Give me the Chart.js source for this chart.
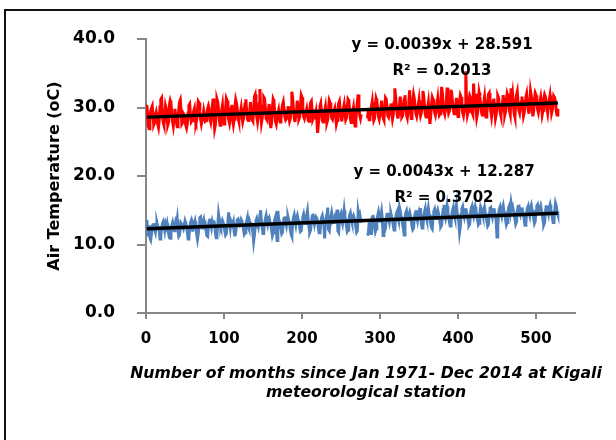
<!DOCTYPE html>
<html>
<head>
<meta charset="utf-8">
<script src="https://cdn.jsdelivr.net/npm/chart.js@4.4.1/dist/chart.umd.min.js"></script>
<style>
html, body { margin: 0; padding: 0; background: #fff; }
canvas { display: block; }
</style>
</head>
<body>
<canvas id="tempChart" width="616" height="440"></canvas>
<script>
// monthly air temperature, Kigali, Jan 1971 - Dec 2014 (one row per year)
const maxTemp = [
    30.4, 29.1, 27.2, 26.9, 28.0, 29.5, 29.9, 30.2, 28.6, 27.5, 27.8, 28.9,
    29.3, 28.4, 27.6, 27.1, 28.2, 30.1, 31.2, 31.4, 29.0, 27.8, 27.4, 28.6,
    30.2, 29.7, 28.1, 27.5, 27.9, 30.4, 31.0, 30.6, 29.2, 28.0, 27.3, 28.4,
    29.8, 29.0, 27.9, 27.2, 28.3, 29.7, 30.8, 31.1, 29.5, 27.6, 27.8, 29.1,
    28.9, 28.2, 27.4, 27.0, 27.6, 29.2, 30.3, 30.5, 28.8, 27.9, 28.1, 28.5,
    29.4, 29.8, 28.0, 27.7, 28.2, 29.6, 30.9, 30.7, 29.4, 28.3, 27.6, 28.2,
    28.7, 29.5, 28.8, 28.0, 28.1, 29.0, 29.8, 30.2, 29.7, 28.4, 27.9, 28.8,
    30.1, 31.3, 28.6, 26.9, 27.5, 29.9, 31.2, 30.8, 29.6, 28.1, 27.4, 28.3,
    29.6, 30.3, 28.4, 27.6, 28.0, 29.8, 31.3, 31.0, 29.5, 28.2, 27.7, 28.6,
    29.9, 30.4, 28.2, 27.5, 28.3, 30.0, 31.1, 30.6, 29.8, 28.5, 28.0, 28.9,
    29.2, 29.9, 28.7, 27.9, 28.4, 29.7, 30.5, 31.2, 29.6, 28.3, 28.1, 28.7,
    29.5, 30.8, 28.9, 28.2, 28.0, 29.4, 31.6, 31.9, 30.4, 28.6, 27.9, 28.8,
    30.6, 32.7, 29.4, 27.8, 28.5, 30.2, 31.5, 31.3, 29.9, 28.4, 28.2, 28.9,
    29.7, 30.5, 28.3, 27.0, 27.8, 29.9, 31.2, 30.9, 29.3, 28.0, 27.6, 28.5,
    29.1, 29.6, 28.5, 27.9, 28.3, 29.5, 30.4, 30.8, 29.7, 28.6, 28.2, 28.4,
    29.0, 30.2, 28.7, 28.0, 28.4, 30.0, 32.3, 31.4, 29.8, 28.5, 27.9, 28.8,
    29.6, 31.0, 29.2, 28.3, 28.6, 30.3, 31.8, 31.5, 30.1, 28.7, 28.4, 29.0,
    29.3, 29.8, 28.9, 28.1, 28.0, 29.6, 30.7, 30.9, 29.5, 28.3, 28.6, 29.1,
    28.8, 29.4, 28.2, 26.3, 27.6, 29.3, 30.2, 30.6, 29.4, 28.1, 27.9, 28.7,
    29.5, 30.1, 28.6, 27.8, 28.2, 29.8, 31.0, 30.7, 29.9, 28.5, 28.3, 29.2,
    29.2, 29.9, 28.8, 27.6, 28.1, 29.5, 30.6, 30.9, 29.7, 28.6, 28.0, 28.9,
    29.8, 30.4, 29.1, 28.2, 28.5, 30.0, 31.2, 31.0, 29.6, 28.4, 27.8, 28.7,
    29.4, 30.0, 28.7, 27.3, 28.0, 29.7, 30.8, 31.9, 29.8, 28.9, 28.4, 29.0,
    null, null, null, null, null, null, null, 28.4, 29.6, 28.2, 28.9, 29.3,
    30.1, 30.8, 29.0, 28.1, 28.4, 30.2, 31.3, 30.9, 29.8, 28.7, 28.3, 29.1,
    29.7, 31.0, 29.3, 28.5, 28.2, 29.9, 31.4, 31.2, 30.0, 28.8, 28.6, 29.4,
    30.0, 30.6, 29.2, 28.3, 28.9, 30.7, 32.8, 31.5, 30.2, 29.0, 28.4, 29.3,
    30.4, 31.6, 29.5, 28.6, 28.8, 30.3, 31.2, 31.8, 30.1, 28.9, 28.5, 29.6,
    30.8, 32.5, 29.7, 28.4, 29.0, 30.9, 31.9, 31.3, 30.2, 29.1, 28.7, 29.4,
    30.3, 31.1, 29.6, 28.8, 29.2, 30.6, 32.4, 31.7, 30.4, 29.0, 28.6, 29.5,
    29.9, 30.7, 29.1, 27.6, 28.7, 30.4, 31.5, 31.2, 30.0, 29.3, 28.9, 29.7,
    30.5, 31.3, 29.8, 28.9, 29.1, 30.8, 33.0, 32.1, 30.6, 29.4, 29.0, 29.8,
    30.6, 32.9, 30.1, 29.2, 29.5, 31.2, 32.6, 32.0, 30.7, 29.6, 29.1, 29.9,
    30.4, 31.4, 29.7, 28.7, 29.3, 30.9, 31.8, 31.5, 30.3, 29.2, 28.8, 29.6,
    30.2, 35.3, 30.5, 28.9, 29.4, 31.0, 31.7, 31.4, 30.1, 29.3, 29.0, 33.5,
    31.2, 32.0, 30.0, 28.5, 29.1, 30.6, 32.2, 31.6, 30.4, 29.4, 28.9, 29.8,
    30.7, 31.5, 29.9, 28.6, 29.2, 30.8, 31.9, 32.1, 30.5, 29.5, 28.7, 29.7,
    30.9, 31.3, 29.8, 28.4, 29.0, 30.5, 31.7, 31.4, 30.2, 29.3, 28.8, 29.9,
    30.6, 31.8, 30.2, 28.9, 29.4, 31.1, 32.0, 31.6, 30.5, 29.5, 29.0, 32.8,
    31.0, 31.9, 30.4, 29.1, 28.6, 30.7, 31.8, 32.3, 30.6, 29.6, 29.2, 30.1,
    30.8, 31.6, 30.3, 28.8, 29.3, 30.9, 31.5, 32.0, 30.8, 29.7, 29.1, 30.2,
    32.4, 31.7, 30.1, 28.7, 29.5, 31.2, 32.1, 31.8, 30.7, 29.8, 29.3, 30.0,
    30.9, 31.5, 30.4, 29.0, 29.6, 31.3, 31.9, 31.6, 30.9, 29.9, 29.2, 30.3,
    31.1, 31.8, 30.6, 29.2, 29.7, 31.0, 31.6, 31.4, 30.8, 29.5, 28.9, 29.8
];
const minTemp = [
    13.6, 12.4, 11.2, 12.8, 11.0, 10.7, 11.5, 12.6, 12.9, 13.1, 12.2, 11.8,
    12.9, 13.2, 12.7, 12.5, 11.9, 10.8, 11.3, 12.4, 13.0, 13.3, 12.8, 12.1,
    13.0, 12.6, 13.1, 12.3, 11.6, 11.0, 10.9, 12.2, 12.8, 13.2, 12.5, 12.0,
    12.7, 13.3, 12.9, 13.7, 12.0, 11.2, 11.4, 12.5, 13.1, 12.9, 12.6, 12.3,
    12.8, 13.4, 13.0, 12.6, 11.8, 10.8, 11.1, 12.3, 13.2, 13.5, 12.7, 11.9,
    13.1, 12.9, 13.4, 12.8, 11.5, 10.8, 11.6, 12.7, 13.9, 14.0, 12.9, 12.4,
    13.2, 13.6, 12.8, 13.0, 12.1, 11.3, 11.2, 12.6, 13.4, 13.8, 13.1, 12.5,
    13.3, 12.8, 13.5, 12.9, 11.7, 11.0, 11.5, 12.8, 14.4, 13.6, 13.0, 12.6,
    13.0, 13.5, 13.2, 12.7, 12.0, 11.4, 11.6, 12.9, 13.5, 14.7, 13.2, 12.4,
    13.4, 13.1, 12.9, 13.3, 11.9, 11.2, 11.8, 12.7, 13.6, 13.7, 13.0, 12.8,
    13.1, 13.6, 13.3, 12.8, 12.2, 11.5, 11.7, 12.9, 13.4, 13.9, 12.6, 12.3,
    13.3, 12.9, 13.0, 12.7, 11.8, 10.5, 11.4, 12.6, 13.5, 13.8, 13.2, 12.7,
    13.6, 14.1, 15.0, 13.2, 12.4, 11.6, 11.9, 13.0, 13.7, 14.2, 13.4, 12.9,
    13.5, 13.8, 13.2, 12.9, 12.1, 11.3, 11.7, 12.8, 13.6, 14.0, 13.1, 10.6,
    14.9, 13.7, 13.4, 13.0, 12.3, 11.6, 11.8, 13.1, 13.8, 14.1, 13.3, 12.8,
    13.7, 14.0, 13.5, 13.2, 12.2, 11.5, 11.2, 12.9, 13.9, 14.3, 13.5, 12.9,
    13.8, 14.2, 13.6, 13.4, 12.6, 11.9, 12.0, 13.2, 14.0, 14.4, 13.6, 13.1,
    13.9, 14.3, 14.9, 13.5, 12.5, 11.8, 12.1, 13.3, 14.1, 14.5, 13.7, 13.0,
    13.6, 14.0, 13.8, 13.3, 12.4, 11.7, 11.9, 13.0, 13.9, 14.2, 13.5, 12.9,
    10.9, 13.4, 13.9, 13.6, 15.4, 12.2, 12.0, 13.1, 14.0, 14.6, 13.8, 13.2,
    13.8, 14.1, 13.7, 13.5, 15.1, 12.0, 11.8, 13.3, 14.2, 14.5, 13.6, 13.1,
    14.0, 15.0, 13.9, 13.6, 12.7, 11.9, 12.1, 13.4, 14.3, 14.6, 13.8, 13.3,
    13.9, 14.2, 13.8, 13.4, 12.5, 11.8, 12.0, 14.8, 14.1, 14.4, 13.7, 13.2,
    null, null, null, null, null, null, null, 11.3, 11.6, 13.0, 13.6, 12.8,
    11.4, 13.9, 14.3, 13.5, 12.6, 11.9, 12.3, 13.5, 14.2, 14.7, 13.9, 13.4,
    14.1, 14.8, 13.7, 11.3, 12.5, 12.0, 12.4, 13.6, 14.4, 14.6, 13.8, 13.3,
    14.2, 14.5, 14.0, 13.6, 12.8, 12.1, 12.3, 13.7, 14.5, 14.8, 14.0, 13.5,
    15.4, 14.9, 14.1, 13.8, 12.9, 12.3, 11.4, 13.8, 14.6, 14.9, 14.1, 13.6,
    14.3, 14.7, 14.2, 13.7, 12.7, 12.2, 12.4, 13.9, 14.5, 15.0, 14.0, 13.5,
    14.4, 14.8, 14.3, 15.3, 13.0, 12.4, 12.6, 14.0, 14.7, 15.2, 14.2, 13.7,
    14.5, 15.3, 14.4, 13.9, 13.1, 12.5, 12.3, 14.1, 14.8, 15.1, 14.3, 13.8,
    14.6, 15.0, 14.5, 14.0, 13.2, 12.6, 12.8, 14.2, 15.1, 15.8, 14.4, 13.9,
    14.7, 15.6, 14.6, 14.1, 13.3, 12.7, 12.9, 14.3, 15.0, 15.4, 14.5, 14.0,
    14.8, 15.7, 14.5, 14.2, 13.4, 11.8, 12.6, 14.4, 15.2, 15.5, 14.6, 14.1,
    14.9, 15.3, 14.7, 14.3, 13.5, 12.8, 13.0, 14.5, 15.3, 15.6, 14.7, 14.2,
    15.0, 15.5, 14.8, 14.4, 13.6, 12.9, 13.1, 14.6, 15.5, 15.2, 14.8, 14.3,
    14.9, 15.4, 14.6, 14.2, 13.4, 12.7, 12.9, 14.5, 15.3, 15.4, 14.6, 14.1,
    15.0, 15.3, 14.7, 14.3, 13.3, 11.1, 12.8, 14.4, 15.2, 15.5, 14.7, 14.2,
    15.1, 15.6, 14.8, 14.5, 13.6, 12.9, 13.2, 14.7, 15.4, 15.7, 14.9, 16.0,
    15.2, 15.5, 14.9, 14.6, 13.7, 13.0, 13.3, 14.8, 15.5, 15.8, 15.0, 14.5,
    15.1, 15.4, 14.8, 14.4, 13.5, 12.8, 13.1, 14.6, 15.3, 15.6, 14.8, 14.3,
    15.3, 15.7, 15.0, 14.6, 13.8, 13.1, 13.4, 14.9, 15.6, 15.8, 15.1, 14.6,
    15.2, 15.6, 14.9, 14.5, 13.6, 12.9, 13.2, 14.8, 15.5, 15.7, 15.0, 14.5,
    15.4, 15.8, 15.1, 14.7, 13.9, 13.2, 13.5, 14.9, 16.0, 15.6, 14.8, 14.4
];

// Excel linear trendlines (max, min)
const trendSlope = [0.0039, 0.0043];
const trendIntercept = [28.591, 12.287];
const trendText = [
    ['y = 0.0039x + 28.591', 'R² = 0.2013'],
    ['y = 0.0043x + 12.287', 'R² = 0.3702']
];
const xTitle = ['Number of months since Jan 1971- Dec 2014 at Kigali', 'meteorological station'];
const xTicks = [0, 100, 200, 300, 400, 500];
const yTicks = [0, 10, 20, 30, 40];

const months = maxTemp.map((_, i) => i + 1);
const toPoints = arr => arr.map((v, i) => ({ x: months[i], y: v }));
const trendPoints = k => [months[0], months[months.length - 1]]
    .map(m => ({ x: m, y: trendSlope[k] * m + trendIntercept[k] }));

const FONT = 'DejaVu Sans';

// white page with the black frame round the chart
const framePlugin = {
    id: 'frame',
    beforeDraw(chart) {
        const ctx = chart.ctx;
        ctx.save();
        ctx.fillStyle = '#fff';
        ctx.fillRect(0, 0, chart.width, chart.height);
        ctx.strokeStyle = '#111';
        ctx.lineWidth = 2;
        ctx.beginPath();
        ctx.moveTo(5, chart.height);
        ctx.lineTo(5, 10);
        ctx.lineTo(chart.width, 10);
        ctx.stroke();
        ctx.restore();
    }
};

// trendline equations and the x title (wider than the axis, so drawn here)
const textPlugin = {
    id: 'texts',
    afterDraw(chart) {
        const ctx = chart.ctx;
        const spots = [[442, 45], [444, 172]];
        ctx.save();
        ctx.fillStyle = '#000';
        ctx.textAlign = 'center';
        ctx.textBaseline = 'middle';
        ctx.font = 'bold 15px "' + FONT + '"';
        trendText.forEach((lines, k) => {
            lines.forEach((t, j) => ctx.fillText(t, spots[k][0], spots[k][1] + j * 26));
        });
        ctx.font = 'italic bold 15.7px "' + FONT + '"';
        xTitle.forEach((t, j) => ctx.fillText(t, 366, 374 + j * 19));
        ctx.restore();
    }
};

const ctx = document.getElementById('tempChart').getContext('2d');
new Chart(ctx, {
    type: 'line',
    data: {
        datasets: [{
            data: trendPoints(0),
            borderColor: '#000',
            borderWidth: 3.5,
            pointRadius: 0,
            order: 0
        }, {
            data: trendPoints(1),
            borderColor: '#000',
            borderWidth: 3.5,
            pointRadius: 0,
            order: 0
        }, {
            data: toPoints(maxTemp),
            borderColor: '#ff0000',
            borderWidth: 3,
            pointRadius: 0,
            spanGaps: false,
            order: 1
        }, {
            data: toPoints(minTemp),
            borderColor: '#4f81bd',
            borderWidth: 3,
            pointRadius: 0,
            spanGaps: false,
            order: 1
        }]
    },
    options: {
        responsive: false,
        animation: false,
        layout: { padding: { left: 0, right: 41, top: 39, bottom: 0 } },
        plugins: {
            legend: { display: false },
            tooltip: { enabled: false }
        },
        scales: {
            x: {
                type: 'linear',
                min: 0,
                max: 550,
                afterFit: s => { s.height = 127; },
                afterBuildTicks: s => { s.ticks = xTicks.map(v => ({ value: v })); },
                grid: { drawOnChartArea: false, tickLength: 6, color: '#868686', lineWidth: 2 },
                border: { color: '#868686', width: 2 },
                ticks: {
                    padding: 11,
                    color: '#000',
                    maxRotation: 0,
                    autoSkip: false,
                    font: { family: FONT, size: 15, weight: 'bold' }
                }
            },
            y: {
                min: 0,
                max: 40,
                afterFit: s => { s.width = 146; },
                afterBuildTicks: s => { s.ticks = yTicks.map(v => ({ value: v })); },
                grid: { drawOnChartArea: false, tickLength: 9, color: '#868686', lineWidth: 2 },
                border: { color: '#868686', width: 2 },
                ticks: {
                    padding: 22,
                    color: '#000',
                    callback: v => v.toFixed(1),
                    font: { family: FONT, size: 17, weight: 'bold' }
                },
                title: {
                    display: true,
                    text: 'Air Temperature (oC)',
                    color: '#000',
                    font: { family: FONT, size: 16, weight: 'bold' },
                    padding: { top: 45, bottom: 0 }
                }
            }
        }
    },
    plugins: [framePlugin, textPlugin]
});
</script>
</body>
</html>
